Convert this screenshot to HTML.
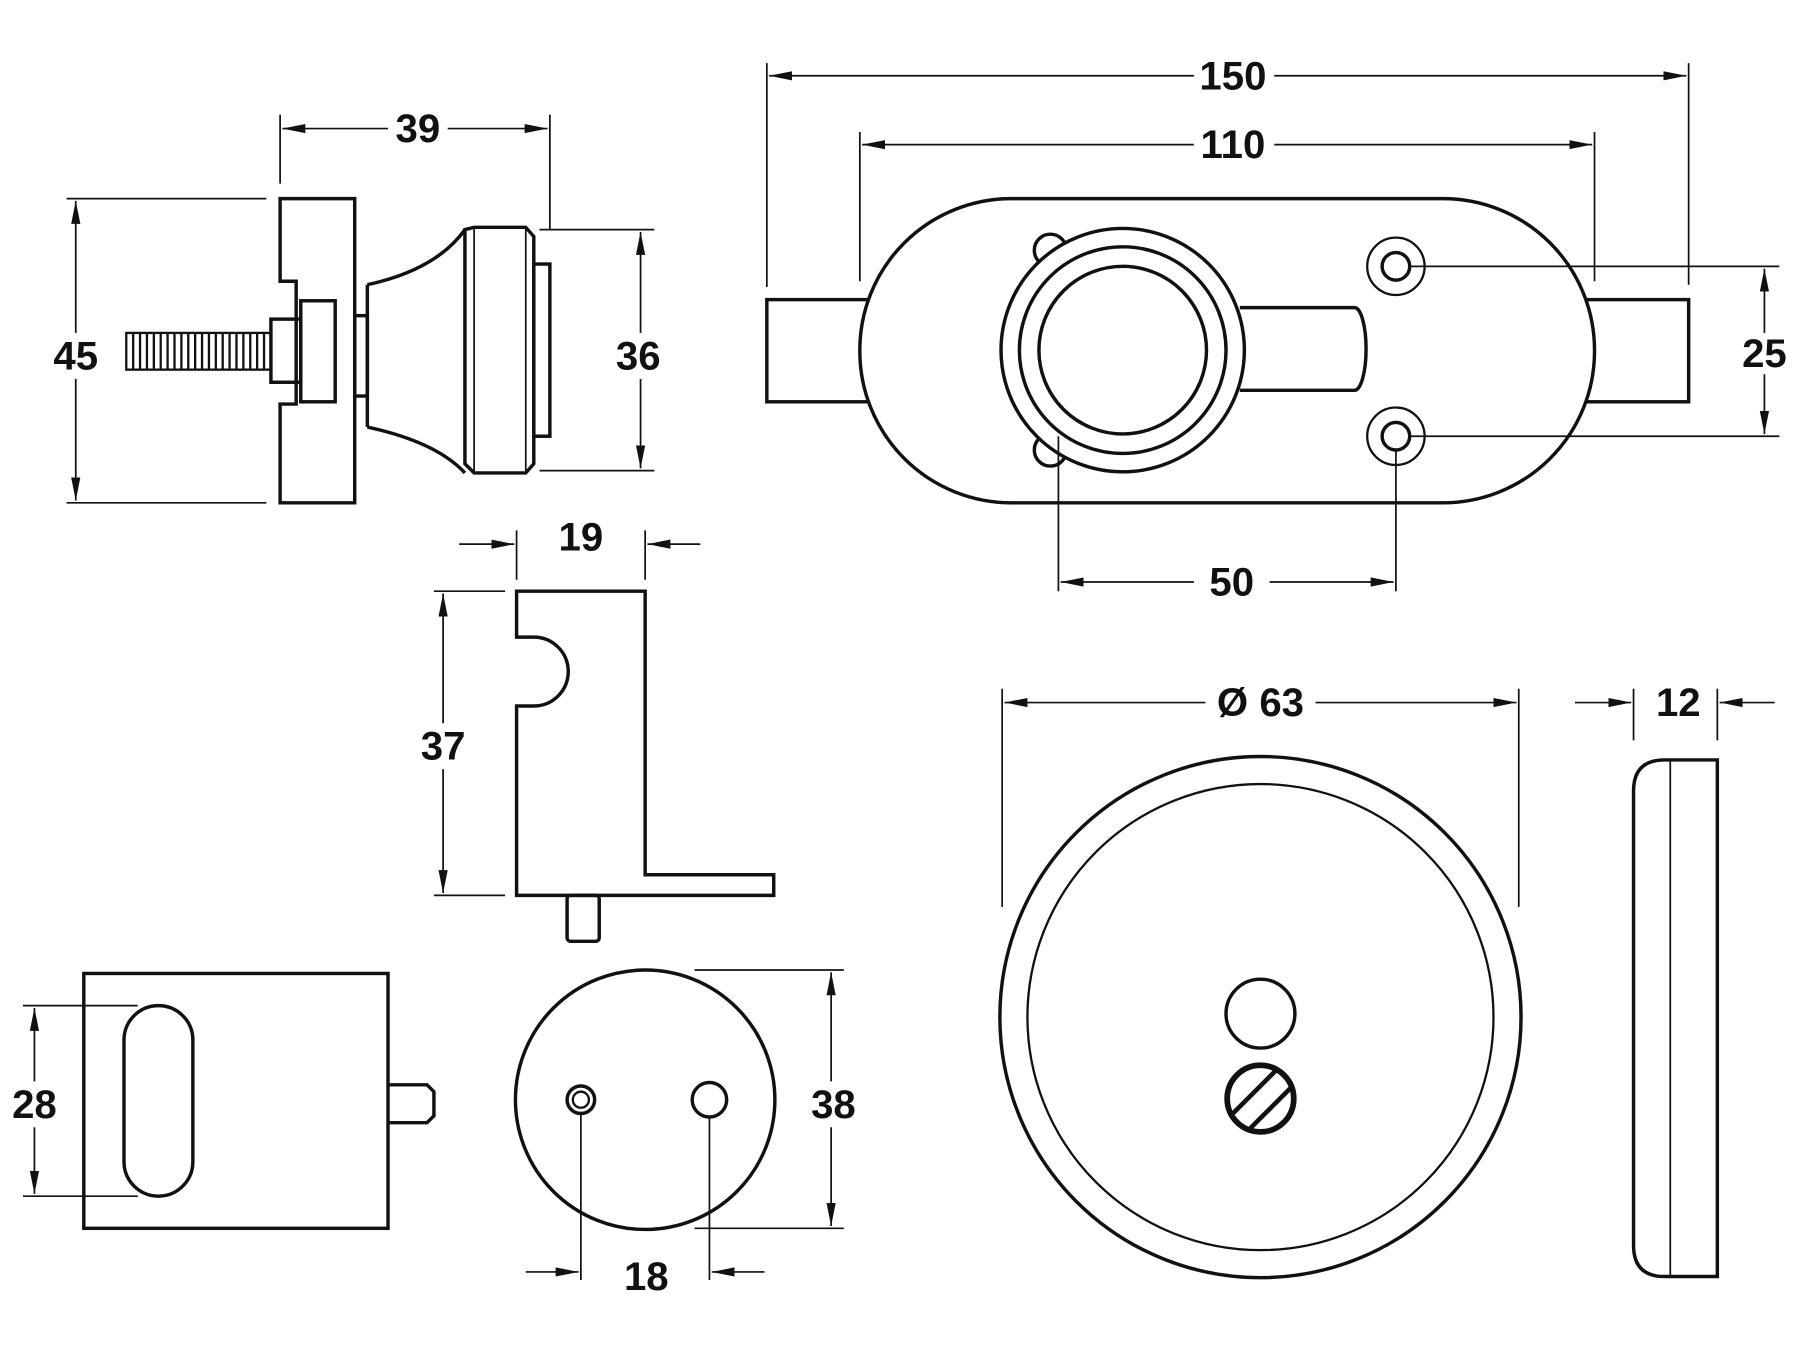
<!DOCTYPE html>
<html><head><meta charset="utf-8"><style>
html,body{margin:0;padding:0;background:#fff;}
svg{display:block}
text{font-family:"Liberation Sans",Arial,sans-serif;font-weight:bold;font-size:35px;fill:#111;text-anchor:middle;dominant-baseline:central}
</style></head><body>
<svg width="1800" height="1350" viewBox="0 0 1568 1176" preserveAspectRatio="none" xmlns="http://www.w3.org/2000/svg">
<defs>
<marker id="a" viewBox="0 0 20 10" refX="20" refY="5" markerWidth="20" markerHeight="10" markerUnits="userSpaceOnUse" orient="auto-start-reverse"><path d="M0,1 L20,5 L0,9 z" fill="#111"/></marker>
<clipPath id="sc"><circle cx="1098" cy="957" r="29"/></clipPath>
</defs>
<g fill="none" stroke="#111" stroke-width="3">
<path d="M244,173 H309 V438 H244 V352 H258 V245 H244 Z" fill="#fff"/>
<rect x="262" y="262" width="30" height="88"/>
<rect x="236" y="278" width="26" height="55"/>
<rect x="110" y="290" width="126" height="32" stroke-width="2"/>
<path d="M116,290 V322 M122,290 V322 M128,290 V322 M134,290 V322 M140,290 V322 M146,290 V322 M152,290 V322 M158,290 V322 M164,290 V322 M170,290 V322 M176,290 V322 M182,290 V322 M188,290 V322 M194,290 V322 M200,290 V322 M206,290 V322 M212,290 V322 M218,290 V322 M224,290 V322 M230,290 V322" stroke-width="2"/>
<rect x="309" y="275" width="11" height="70"/>
<path d="M320,248 Q380,235 405,200 M320,372 Q380,385 405,412 M320,248 V372"/>
<path d="M405,200 L413,198 H458 L465,206 V404 L458,412 H413 L405,404 Z"/>
<path d="M413,198 V412 M458,198 V412" stroke-width="1.5"/>
<rect x="465" y="230" width="14" height="150"/>
<rect x="668" y="261" width="803" height="89"/>
<rect x="749" y="173" width="640" height="265" rx="132" fill="#fff"/>
<circle cx="915" cy="218" r="14"/><circle cx="915" cy="392" r="14"/>
<path d="M1080,268 H1180 A10,36 0 0 1 1190,304 A10,36 0 0 1 1180,340 H1080"/>
<circle cx="978" cy="305" r="106" fill="#fff"/>
<circle cx="978" cy="305" r="90"/>
<circle cx="978" cy="305" r="73"/>
<circle cx="1216" cy="232" r="25" stroke-width="2"/><circle cx="1216" cy="232" r="12"/>
<circle cx="1216" cy="380" r="25" stroke-width="2"/><circle cx="1216" cy="380" r="12"/>
<path d="M450,515 H562 V762 H674 V780 H450 V615 H465 A30,30 0 0 0 465,555 H450 Z"/>
<rect x="494" y="780" width="28" height="40" rx="3"/>
<rect x="73" y="848" width="265" height="222"/>
<rect x="108" y="876" width="60" height="166" rx="30"/>
<path d="M338,945 H372 L378,951 V972 L372,978 H338"/>
<circle cx="562" cy="958" r="113"/>
<circle cx="506" cy="958" r="12"/><circle cx="506" cy="958" r="7" stroke-width="2"/>
<circle cx="618" cy="958" r="15"/>
<circle cx="1098" cy="886" r="227"/>
<circle cx="1098" cy="886" r="203" stroke-width="2"/>
<circle cx="1098" cy="883" r="30"/>
<g clip-path="url(#sc)" stroke-width="4"><path d="M1060,984 L1130,914 M1072,1000 L1142,930"/></g>
<circle cx="1098" cy="957" r="29" stroke-width="5"/>
<path d="M1450,662 H1496 V1112 H1450 Q1423,1112 1423,1085 V689 Q1423,662 1450,662 Z"/>
<path d="M1455,662 V1112" stroke-width="1.5"/>
</g>
<g fill="none" stroke="#111" stroke-width="1.5">
<path d="M244,100 V160 M479,100 V200 M58,173 H232 M58,438 H232 M470,200 H570 M470,410 H570"/>
<path d="M668,55 V250 M1471,55 V248 M749,115 V245 M1389,115 V245 M1228,232 H1550 M1228,380 H1550 M922,380 V515 M1216,392 V515"/>
<path d="M450,462 V505 M562,462 V505 M378,515 H440 M378,780 H440"/>
<path d="M20,876 H120 M20,1042 H120"/>
<path d="M605,845 H735 M605,1070 H735 M506,970 V1115 M618,973 V1115"/>
<path d="M873,600 V790 M1323,600 V790 M1423,600 V645 M1496,600 V645"/>
<g marker-end="url(#a)">
<path d="M338,112 H246"/><path d="M390,112 H477"/>
<path d="M66,290 V175"/><path d="M66,330 V436"/>
<path d="M558,290 V202"/><path d="M558,330 V408"/>
<path d="M1040,66 H670"/><path d="M1110,66 H1469"/>
<path d="M1040,126 H751"/><path d="M1110,126 H1387"/>
<path d="M1537,290 V234"/><path d="M1537,326 V378"/>
<path d="M1040,507 H924"/><path d="M1106,507 H1214"/>
<path d="M400,474 H448"/><path d="M610,474 H564"/>
<path d="M386,630 V517"/><path d="M386,670 V778"/>
<path d="M30,942 V878"/><path d="M30,982 V1040"/>
<path d="M724,942 V847"/><path d="M724,982 V1068"/>
<path d="M458,1108 H504"/><path d="M666,1108 H620"/>
<path d="M1050,612 H875"/><path d="M1146,612 H1321"/>
<path d="M1372,612 H1421"/><path d="M1546,612 H1498"/>
</g>
</g>
<text x="364" y="112">39</text>
<text x="66" y="310">45</text>
<text x="556" y="310">36</text>
<text x="1074" y="66">150</text>
<text x="1074" y="126">110</text>
<text x="1537" y="308">25</text>
<text x="1073" y="507">50</text>
<text x="506" y="468">19</text>
<text x="386" y="650">37</text>
<text x="30" y="962">28</text>
<text x="726" y="962">38</text>
<text x="563" y="1112">18</text>
<text x="1098" y="612">Ø 63</text>
<text x="1462" y="612">12</text>
</svg>
</body></html>
